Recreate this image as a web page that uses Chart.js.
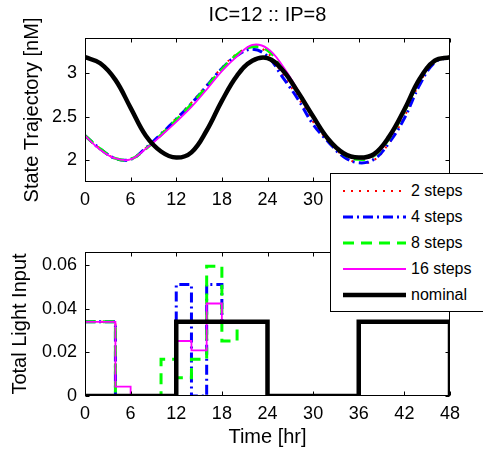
<!DOCTYPE html>
<html>
<head>
<meta charset="utf-8">
<script src="https://cdn.jsdelivr.net/npm/chart.js@4.4.0/dist/chart.umd.min.js"></script>
<style>
  html, body { margin: 0; padding: 0; background: #fff; }
  #wrap { position: relative; width: 483px; height: 452px; overflow: hidden; font-family: 'Liberation Sans', Arial, sans-serif; }
  #topChart { position: absolute; left: 0; top: 0; }
  #bottomChart { position: absolute; left: 0; top: 215px; }
  #legend { position: absolute; left: 330px; top: 173px; width: 165px; height: 139px; background: #fff; border: 1px solid #000; box-sizing: border-box; }
  #legend .row { position: absolute; left: 0; width: 160px; height: 20px; }
  #legend .row canvas { position: absolute; left: 12px; top: 5px; }
  #legend .row span { position: absolute; left: 80px; top: 0; font-size: 16px; line-height: 20px; white-space: nowrap; color: #000; }
</style>
</head>
<body>
<div id="wrap">
  <canvas id="topChart" width="483" height="215"></canvas>
  <canvas id="bottomChart" width="483" height="237"></canvas>
  <div id="legend"></div>
</div>
<script>
// time grid [hr]
var hours = [0, 2, 4, 6, 8, 10, 12, 14, 16, 18, 20, 22, 24, 26, 28, 30, 32, 34, 36, 38, 40, 42, 44, 46, 48];

// state trajectory [nM]
var state2steps  = [2.28, 2.13, 2.02, 2.01, 2.14, 2.30, 2.48, 2.66, 2.86, 3.06, 3.22, 3.30, 3.23, 2.98, 2.72, 2.44, 2.22, 2.05, 1.97, 2.00, 2.20, 2.50, 2.88, 3.13, 3.18];
var state4steps  = [2.28, 2.13, 2.02, 2.01, 2.14, 2.30, 2.47, 2.65, 2.85, 3.05, 3.20, 3.27, 3.19, 2.95, 2.70, 2.41, 2.21, 2.04, 1.97, 2.01, 2.20, 2.48, 2.86, 3.12, 3.18];
var state8steps  = [2.28, 2.13, 2.02, 2.01, 2.13, 2.29, 2.46, 2.64, 2.84, 3.04, 3.21, 3.30, 3.26, 3.05, 2.78, 2.50, 2.24, 2.07, 2.01, 2.05, 2.25, 2.56, 2.92, 3.14, 3.18];
var state16steps = [2.28, 2.12, 2.02, 2.01, 2.13, 2.28, 2.44, 2.61, 2.81, 3.02, 3.19, 3.32, 3.28, 3.08, 2.80, 2.51, 2.25, 2.08, 2.02, 2.05, 2.25, 2.56, 2.92, 3.14, 3.18];
var stateNominal = [3.18, 3.11, 2.92, 2.60, 2.28, 2.10, 2.03, 2.09, 2.34, 2.68, 2.97, 3.14, 3.17, 3.03, 2.78, 2.50, 2.24, 2.08, 2.03, 2.07, 2.27, 2.58, 2.93, 3.14, 3.18];

// total light input, value holds from hours[i] to hours[i+1]
var light2steps  = [0.034, 0.034, 0, 0, 0, 0, 0.034, 0.034, 0.034, 0.034, 0.034, 0.034, 0, 0, 0, 0, 0, 0, 0.034, 0.034, 0.034, 0.034, 0.034, 0.034, 0];
var light4steps  = [0.034, 0.034, 0, 0, 0, 0, 0.0511, 0, 0.0511, 0.034, 0.034, 0.034, 0, 0, 0, 0, 0, 0, 0.034, 0.034, 0.034, 0.034, 0.034, 0.034, 0];
var light8steps  = [0.034, 0.034, 0, 0, 0, 0.0168, 0.0084, 0.0168, 0.0595, 0.0252, 0.034, 0.034, 0, 0, 0, 0, 0, 0, 0.034, 0.034, 0.034, 0.034, 0.034, 0.034, 0];
var light16steps = [0.034, 0.034, 0.0043, 0, 0, 0, 0.0252, 0.0209, 0.0424, 0.034, 0.034, 0.034, 0, 0, 0, 0, 0, 0, 0.034, 0.034, 0.034, 0.034, 0.034, 0.034, 0];
var lightNominal = [0, 0, 0, 0, 0, 0, 0.034, 0.034, 0.034, 0.034, 0.034, 0.034, 0, 0, 0, 0, 0, 0, 0.034, 0.034, 0.034, 0.034, 0.034, 0.034, 0];

var seriesLabels = ['2 steps', '4 steps', '8 steps', '16 steps', 'nominal'];
var xTicks = [0, 6, 12, 18, 24, 30, 36, 42, 48];
var stateTicks = [2, 2.5, 3];
var lightTicks = [0, 0.02, 0.04, 0.06];

var FONT = "'Liberation Sans', Arial, sans-serif";

var styles = [
  { color: '#ff0000', width: 2, dash: [2, 6] },
  { color: '#0000ff', width: 3, dash: [10, 4, 2, 4] },
  { color: '#00ff00', width: 3, dash: [11, 7] },
  { color: '#ff00ff', width: 1.8, dash: [] },
  { color: '#000000', width: 4.5, dash: [] }
];

function makeDatasets(seriesList, stepped) {
  return seriesList.map(function (vals, i) {
    var s = styles[i];
    return {
      label: seriesLabels[i],
      data: vals.map(function (v, j) { return { x: hours[j], y: v }; }),
      borderColor: s.color,
      backgroundColor: s.color,
      borderWidth: s.width,
      borderDash: s.dash,
      borderCapStyle: 'butt',
      pointRadius: 0,
      tension: stepped ? 0 : 0.4,
      stepped: stepped ? 'before' : false,
      fill: false,
      order: seriesList.length - i
    };
  });
}

// box with inward ticks on all four sides
var boxAxes = {
  id: 'boxAxes',
  afterDatasetsDraw: function (chart) {
    var ctx = chart.ctx, a = chart.chartArea;
    var xs = chart.scales.x, ys = chart.scales.y;
    var L = Math.round(a.left) + 0.5, R = Math.round(a.right) - 0.5;
    var T = Math.round(a.top) + 0.5, B = Math.round(a.bottom) - 0.5;
    ctx.save();
    ctx.strokeStyle = '#000';
    ctx.lineWidth = 1;
    ctx.setLineDash([]);
    ctx.strokeRect(L, T, R - L, B - T);
    ctx.beginPath();
    xs.ticks.forEach(function (t) {
      var px = Math.round(xs.getPixelForValue(t.value)) + 0.5;
      ctx.moveTo(px, B); ctx.lineTo(px, B - 4);
      ctx.moveTo(px, T); ctx.lineTo(px, T + 4);
    });
    ys.ticks.forEach(function (t) {
      var py = Math.round(ys.getPixelForValue(t.value)) + 0.5;
      ctx.moveTo(L, py); ctx.lineTo(L + 4, py);
      ctx.moveTo(R, py); ctx.lineTo(R - 4, py);
    });
    ctx.stroke();
    ctx.restore();
  }
};

function makeOptions(cfg) {
  return {
    responsive: false,
    devicePixelRatio: 1,
    animation: false,
    layout: { padding: { left: 0, right: 33, top: cfg.padTop, bottom: 0 } },
    plugins: {
      legend: { display: false },
      tooltip: { enabled: false },
      title: cfg.title ? {
        display: true,
        text: cfg.title,
        fullSize: false,
        color: '#000',
        font: { family: FONT, size: 20, weight: 'normal' },
        padding: { top: 3, bottom: 11 }
      } : { display: false }
    },
    scales: {
      x: {
        type: 'linear',
        min: 0,
        max: 48,
        afterBuildTicks: function (scale) { scale.ticks = xTicks.map(function (v) { return { value: v }; }); },
        afterFit: function (scale) { scale.height = cfg.xHeight; },
        grid: { display: false, drawTicks: false },
        border: { display: false },
        ticks: { color: '#000', padding: 7, maxRotation: 0, font: { family: FONT, size: 18 }, callback: function (v) { return String(v); } },
        title: cfg.xTitle ? { display: true, text: cfg.xTitle, color: '#000', font: { family: FONT, size: 20 }, padding: { top: 0, bottom: 3 } } : { display: false }
      },
      y: {
        type: 'linear',
        min: cfg.yMin,
        max: cfg.yMax,
        afterBuildTicks: function (scale) { scale.ticks = cfg.yTicks.map(function (v) { return { value: v }; }); },
        afterFit: function (scale) { scale.width = 85; },
        grid: { display: false, drawTicks: false },
        border: { display: false },
        ticks: { color: '#000', padding: 8, font: { family: FONT, size: 18 }, callback: function (v) { return String(v); } },
        title: { display: true, text: cfg.yTitle, color: '#000', font: { family: FONT, size: 20 }, padding: { top: cfg.yTitlePad, bottom: 0 } }
      }
    }
  };
}

var topChart = new Chart(document.getElementById('topChart'), {
  type: 'line',
  data: { datasets: makeDatasets([state2steps, state4steps, state8steps, state16steps, stateNominal], false) },
  options: makeOptions({ title: 'IC=12 :: IP=8', padTop: 0, xHeight: 33, yMin: 1.75, yMax: 3.4, yTicks: stateTicks, yTitle: 'State Trajectory [nM]', yTitlePad: 20 }),
  plugins: [boxAxes]
});

var bottomChart = new Chart(document.getElementById('bottomChart'), {
  type: 'line',
  data: { datasets: makeDatasets([light2steps, light4steps, light8steps, light16steps, lightNominal], true) },
  options: makeOptions({ padTop: 37, xHeight: 56, xTitle: 'Time [hr]', yMin: 0, yMax: 0.066, yTicks: lightTicks, yTitle: 'Total Light Input', yTitlePad: 8 }),
  plugins: [boxAxes]
});

// legend drawn from the chart's own datasets
var legendBox = document.getElementById('legend');
topChart.data.datasets.forEach(function (ds, i) {
  var row = document.createElement('div');
  row.className = 'row';
  row.style.top = (17.7 + 26.15 * i - 11) + 'px';
  var c = document.createElement('canvas');
  c.width = 63; c.height = 10;
  var g = c.getContext('2d');
  g.strokeStyle = ds.borderColor;
  g.lineWidth = ds.borderWidth;
  g.setLineDash(ds.borderDash);
  g.beginPath(); g.moveTo(0, 5); g.lineTo(63, 5); g.stroke();
  var sp = document.createElement('span');
  sp.textContent = ds.label;
  row.appendChild(c);
  row.appendChild(sp);
  legendBox.appendChild(row);
});
</script>
</body>
</html>
